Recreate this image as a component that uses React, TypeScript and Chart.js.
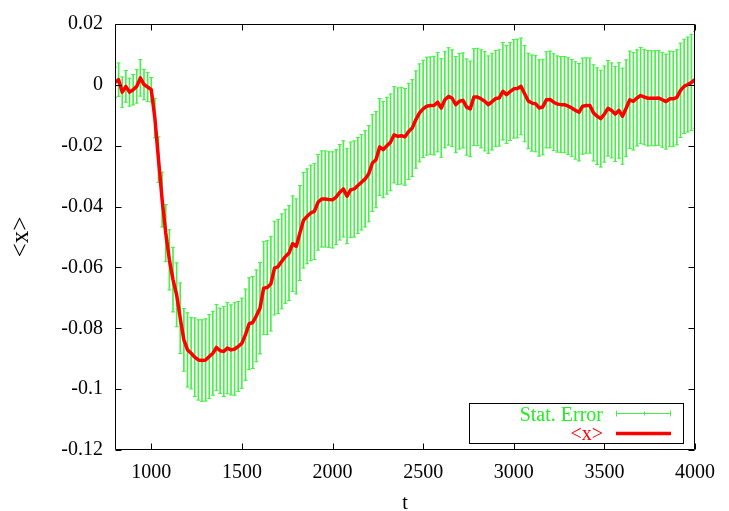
import React, { useEffect, useRef } from 'react';
import { Chart, registerables } from 'chart.js';

Chart.register(...registerables);

// time axis samples (t)
const tValues = [
  800, 820, 840, 860, 880, 900, 920, 940, 960, 980,
  1000, 1020, 1040, 1060, 1080, 1100, 1120, 1140, 1160, 1180,
  1200, 1220, 1240, 1260, 1280, 1300, 1320, 1340, 1360, 1380,
  1400, 1420, 1440, 1460, 1480, 1500, 1520, 1540, 1560, 1580,
  1600, 1620, 1640, 1660, 1680, 1700, 1720, 1740, 1760, 1780,
  1800, 1820, 1840, 1860, 1880, 1900, 1920, 1940, 1960, 1980,
  2000, 2020, 2040, 2060, 2080, 2100, 2120, 2140, 2160, 2180,
  2200, 2220, 2240, 2260, 2280, 2300, 2320, 2340, 2360, 2380,
  2400, 2420, 2440, 2460, 2480, 2500, 2520, 2540, 2560, 2580,
  2600, 2620, 2640, 2660, 2680, 2700, 2720, 2740, 2760, 2780,
  2800, 2820, 2840, 2860, 2880, 2900, 2920, 2940, 2960, 2980,
  3000, 3020, 3040, 3060, 3080, 3100, 3120, 3140, 3160, 3180,
  3200, 3220, 3240, 3260, 3280, 3300, 3320, 3340, 3360, 3380,
  3400, 3420, 3440, 3460, 3480, 3500, 3520, 3540, 3560, 3580,
  3600, 3620, 3640, 3660, 3680, 3700, 3720, 3740, 3760, 3780,
  3800, 3820, 3840, 3860, 3880, 3900, 3920, 3940, 3960, 3980,
  4000,
];

// <x> mean values
const meanX = [
  0.0008, 0.0017, -0.0024, -0.0005, -0.0024, -0.0016, -0.0005, 0.0023, 0.0001, -0.0007,
  -0.0016, -0.0109, -0.0246, -0.0377, -0.0487, -0.0575, -0.064, -0.069, -0.0767, -0.0838,
  -0.0871, -0.0882, -0.0895, -0.0904, -0.0906, -0.0904, -0.0893, -0.0882, -0.0863, -0.0874,
  -0.0876, -0.0865, -0.0871, -0.0868, -0.086, -0.0849, -0.0821, -0.0785, -0.0781, -0.0759,
  -0.0734, -0.0668, -0.0666, -0.0654, -0.0602, -0.0597, -0.058, -0.0564, -0.0553, -0.0522,
  -0.0531, -0.0487, -0.0445, -0.0432, -0.0421, -0.0416, -0.0386, -0.0375, -0.0375, -0.0377,
  -0.0378, -0.0369, -0.0353, -0.0342, -0.0366, -0.0345, -0.0342, -0.0331, -0.032, -0.0309,
  -0.0292, -0.0257, -0.0246, -0.0204, -0.0213, -0.02, -0.0189, -0.0164, -0.0169, -0.0167,
  -0.0171, -0.0153, -0.0142, -0.0114, -0.0092, -0.0079, -0.007, -0.0068, -0.0068, -0.0057,
  -0.0076, -0.0049, -0.0038, -0.0044, -0.0065, -0.0054, -0.0051, -0.0073, -0.0079, -0.004,
  -0.004, -0.0046, -0.0054, -0.0065, -0.0055, -0.0045, -0.0043, -0.0021, -0.0032, -0.0022,
  -0.0013, -0.0012, -0.0005, -0.0029, -0.0053, -0.006, -0.0062, -0.0076, -0.0073, -0.0049,
  -0.0048, -0.0057, -0.0063, -0.0065, -0.0065, -0.007, -0.0076, -0.0084, -0.009, -0.007,
  -0.0068, -0.0068, -0.0092, -0.0103, -0.0111, -0.0096, -0.0077, -0.0084, -0.0096, -0.0084,
  -0.0103, -0.0077, -0.0049, -0.0054, -0.0043, -0.0035, -0.004, -0.0044, -0.0044, -0.0044,
  -0.0043, -0.0049, -0.0055, -0.0046, -0.0046, -0.0041, -0.0018, -0.0005, 0.0001, 0.0008,
  0.0017,
];

// statistical error (half-width of error bar)
const statErr = [
  0.005, 0.0055, 0.005, 0.0052, 0.0046, 0.005, 0.0055, 0.006, 0.005, 0.0048,
  0.004, 0.0065, 0.0075, 0.009, 0.0094, 0.0099, 0.0106, 0.0105, 0.0116, 0.0103,
  0.0122, 0.0117, 0.0129, 0.0132, 0.0134, 0.0135, 0.0138, 0.0138, 0.0141, 0.014,
  0.0148, 0.015, 0.0148, 0.0152, 0.0148, 0.0148, 0.015, 0.0151, 0.0151, 0.0151,
  0.015, 0.0153, 0.0154, 0.0155, 0.0154, 0.0155, 0.0156, 0.0155, 0.0156, 0.0157,
  0.0156, 0.0156, 0.0157, 0.0156, 0.0157, 0.0158, 0.0157, 0.0158, 0.0158, 0.0157,
  0.0158, 0.0156, 0.0157, 0.0158, 0.0156, 0.0157, 0.0158, 0.0158, 0.0157, 0.0158,
  0.0158, 0.0159, 0.0158, 0.0159, 0.0158, 0.0159, 0.0159, 0.0158, 0.0159, 0.0159,
  0.0159, 0.0158, 0.0159, 0.016, 0.0161, 0.016, 0.0161, 0.016, 0.0162, 0.0163,
  0.0162, 0.0158, 0.016, 0.0159, 0.0158, 0.0157, 0.0156, 0.0158, 0.0157, 0.0159,
  0.016, 0.0161, 0.0163, 0.016, 0.0159, 0.0158, 0.0158, 0.016, 0.0161, 0.0161,
  0.0162, 0.0162, 0.0159, 0.0158, 0.0157, 0.0158, 0.0158, 0.0158, 0.0157, 0.0158,
  0.0159, 0.0159, 0.0158, 0.0158, 0.0158, 0.0159, 0.0159, 0.016, 0.016, 0.0158,
  0.0157, 0.0156, 0.0158, 0.0159, 0.0159, 0.0158, 0.0157, 0.0156, 0.0156, 0.0157,
  0.0158, 0.0159, 0.016, 0.016, 0.0158, 0.0158, 0.0157, 0.0157, 0.0156, 0.0156,
  0.0156, 0.0156, 0.0156, 0.0157, 0.0156, 0.0156, 0.0155, 0.0155, 0.0156, 0.0158,
  0.0159,
];

const xTicks = [1000, 1500, 2000, 2500, 3000, 3500, 4000];
const yTicks = [-0.12, -0.1, -0.08, -0.06, -0.04, -0.02, 0, 0.02];
const legendLabels = ['Stat. Error', '<x>'];
const xTitle = 't';
const yTitle = '<x>';

const GREEN = '#4aee4a';
const GREEN_TEXT = '#22ee22';
const RED = '#ff0000';
const FONT = '"Liberation Serif", "Times New Roman", serif';

const fmtY = (v: number) => {
  const r = Math.round(v * 100) / 100;
  return r === 0 ? '0' : String(r);
};

const framePlugin = {
  id: 'frameTicks',
  afterDatasetsDraw(chart: any) {
    const { ctx, chartArea: a, scales } = chart;
    const L = Math.round(a.left) + 0.5;
    const R = Math.round(a.right) - 0.5;
    const T = Math.round(a.top) + 0.5;
    const B = Math.round(a.bottom) - 0.5;
    ctx.save();
    ctx.strokeStyle = '#000';
    ctx.lineWidth = 1;
    ctx.beginPath();
    ctx.rect(L, T, R - L, B - T);
    const tl = 6;
    xTicks.forEach((v) => {
      const px = Math.round(scales.x.getPixelForValue(v)) + 0.5;
      ctx.moveTo(px, B);
      ctx.lineTo(px, B - tl);
      ctx.moveTo(px, T);
      ctx.lineTo(px, T + tl);
    });
    yTicks.forEach((v) => {
      const py = Math.round(scales.y.getPixelForValue(v)) + 0.5;
      ctx.moveTo(L, py);
      ctx.lineTo(L + tl, py);
      ctx.moveTo(R, py);
      ctx.lineTo(R - tl, py);
    });
    ctx.stroke();
    ctx.restore();
  },
};

const keyPlugin = {
  id: 'keyBox',
  afterDraw(chart: any) {
    const { ctx, chartArea: a } = chart;
    const right = Math.round(a.right) - 12;
    const left = right - 214;
    const bottom = Math.round(a.bottom) - 7;
    const top = bottom - 40;
    ctx.save();
    ctx.strokeStyle = '#000';
    ctx.lineWidth = 1;
    ctx.strokeRect(left + 0.5, top + 0.5, right - left, bottom - top);
    ctx.font = `20px ${FONT}`;
    ctx.textAlign = 'right';
    ctx.textBaseline = 'alphabetic';
    ctx.fillStyle = GREEN_TEXT;
    ctx.fillText(legendLabels[0], left + 134, top + 18);
    ctx.fillStyle = RED;
    ctx.fillText(legendLabels[1], left + 134, top + 37);
    // error bar sample
    const x1 = left + 147;
    const x2 = left + 202;
    const xm = (x1 + x2) / 2;
    const ye = top + 10.5;
    ctx.strokeStyle = GREEN;
    ctx.beginPath();
    ctx.moveTo(x1, ye);
    ctx.lineTo(x2, ye);
    ctx.moveTo(x1 + 0.5, ye - 3);
    ctx.lineTo(x1 + 0.5, ye + 3);
    ctx.moveTo(x2 - 0.5, ye - 3);
    ctx.lineTo(x2 - 0.5, ye + 3);
    ctx.moveTo(Math.round(xm) + 0.5, ye - 2);
    ctx.lineTo(Math.round(xm) + 0.5, ye + 2);
    ctx.stroke();
    // line sample
    ctx.strokeStyle = RED;
    ctx.lineWidth = 3.5;
    ctx.beginPath();
    ctx.moveTo(x1, top + 30.5);
    ctx.lineTo(x2, top + 30.5);
    ctx.stroke();
    ctx.restore();
  },
};

export default function App() {
  const ref = useRef<HTMLCanvasElement>(null);
  useEffect(() => {
    document.body.style.margin = '0';
    const canvas = ref.current;
    if (!canvas) return;
    const lineData = tValues.map((t, i) => ({ x: t, y: meanX[i] }));
    const barData = tValues.map((t, i) => ({ x: t, y: [meanX[i] - statErr[i], meanX[i] + statErr[i]] }));
    const upperCaps = tValues.map((t, i) => ({ x: t, y: meanX[i] + statErr[i] }));
    const lowerCaps = tValues.map((t, i) => ({ x: t, y: meanX[i] - statErr[i] }));
    const tickFont = { family: FONT, size: 20 };
    const yTitleFont = { family: FONT, size: 25 };
    const chart = new Chart(canvas, {
      type: 'line',
      data: {
        datasets: [
          {
            type: 'line',
            label: legendLabels[1],
            data: lineData,
            borderColor: RED,
            backgroundColor: RED,
            borderWidth: 3.5,
            pointRadius: 0,
            pointHoverRadius: 0,
            tension: 0,
            borderJoinStyle: 'round',
            order: 0,
          },
          {
            type: 'bar',
            label: legendLabels[0],
            data: barData as any,
            backgroundColor: GREEN,
            borderWidth: 0,
            barThickness: 1,
            order: 3,
          },
          {
            type: 'scatter',
            label: 'caps-up',
            data: upperCaps,
            pointStyle: 'line',
            pointRadius: 2,
            pointHoverRadius: 2,
            borderColor: GREEN,
            borderWidth: 1,
            showLine: false,
            order: 2,
          },
          {
            type: 'scatter',
            label: 'caps-down',
            data: lowerCaps,
            pointStyle: 'line',
            pointRadius: 2,
            pointHoverRadius: 2,
            borderColor: GREEN,
            borderWidth: 1,
            showLine: false,
            order: 2,
          },
        ] as any,
      },
      options: {
        responsive: false,
        animation: false,
        devicePixelRatio: 1,
        events: [],
        layout: { padding: { left: 0, top: 24, right: 34, bottom: 0 } },
        plugins: { legend: { display: false }, tooltip: { enabled: false } },
        scales: {
          x: {
            type: 'linear',
            min: 800,
            max: 4000,
            offset: false,
            grid: { display: false, drawTicks: false },
            border: { display: false },
            afterBuildTicks: (s: any) => {
              s.ticks = xTicks.map((v) => ({ value: v }));
            },
            afterFit: (s: any) => {
              s.height = 61;
            },
            ticks: {
              font: tickFont,
              color: '#000',
              padding: 11,
              maxRotation: 0,
              autoSkip: false,
              callback: (v: any) => String(v),
            },
            title: {
              display: true,
              text: xTitle,
              font: tickFont,
              color: '#000',
              padding: { top: 0, bottom: -5 },
            },
          },
          y: {
            type: 'linear',
            min: -0.12,
            max: 0.02,
            grid: { display: false, drawTicks: false },
            border: { display: false },
            afterBuildTicks: (s: any) => {
              s.ticks = yTicks.map((v) => ({ value: v }));
            },
            afterFit: (s: any) => {
              s.width = 115;
            },
            ticks: {
              font: tickFont,
              color: '#000',
              padding: 12,
              autoSkip: false,
              callback: (v: any) => fmtY(Number(v)),
            },
            title: {
              display: true,
              text: yTitle,
              font: yTitleFont,
              color: '#000',
              padding: { top: 6, bottom: 0 },
            },
          },
        },
      } as any,
      plugins: [framePlugin, keyPlugin],
    });
    return () => chart.destroy();
  }, []);
  return (
    <div style={{ width: 729, height: 511, background: '#fff' }}>
      <canvas ref={ref} width={729} height={511} style={{ display: 'block' }} />
    </div>
  );
}
